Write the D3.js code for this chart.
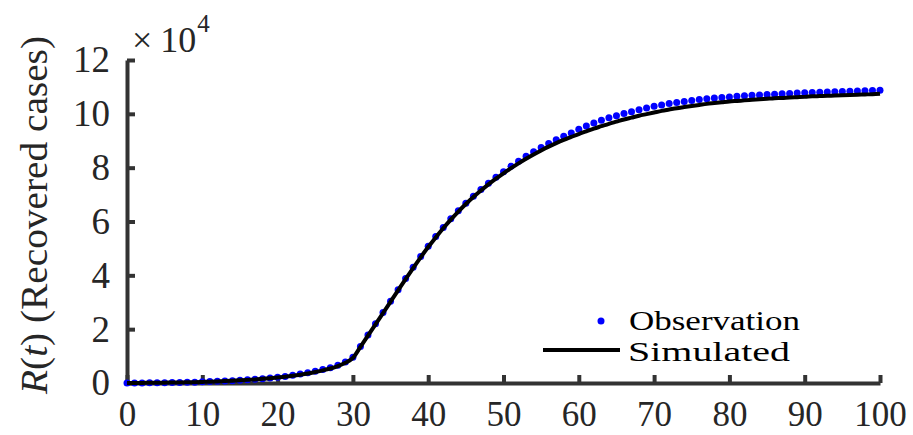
<!DOCTYPE html>
<html><head><meta charset="utf-8">
<script src="https://cdn.jsdelivr.net/npm/d3@7"></script>
<style>body{margin:0;background:#fff}svg{display:block}</style>
</head><body><svg id="c" width="913" height="435"></svg>
<script>
// Observed recovered cases, one value per day (day = index 0..100)
const observed = [
0,20,40,60,90,120,160,200,250,310,
420,520,630,750,880,1020,1180,1360,1570,1820,
2100,2450,2850,3300,3800,4400,5000,5700,6600,7800,
9600,13600,17800,22000,26200,30400,34600,38800,43000,47000,
50800,54400,57800,61000,64000,66800,69400,71900,74200,76400,
78500,80500,82400,84200,85900,87500,89000,90400,91700,92900,
94300,95500,96600,97600,98500,99300,100100,100800,101500,102200,
102800,103300,103800,104200,104600,105000,105300,105600,105900,106100,
106300,106500,106700,106900,107000,107200,107300,107500,107600,107700,
107800,107900,108000,108100,108200,108300,108400,108500,108600,108700,
108800];
// Simulated recovered cases (model), day = index 0..100
const simulated = [
0,20,40,60,90,120,160,200,250,310,
400,490,600,720,850,1000,1160,1340,1550,1790,
2050,2350,2700,3100,3550,4100,4700,5400,6300,7500,
9300,13400,17600,21800,26000,30200,34400,38600,42700,46700,
50500,54100,57500,60700,63700,66500,69100,71500,73800,75900,
77900,79800,81600,83300,84900,86400,87800,89100,90300,91400,
92500,93500,94500,95400,96300,97100,97900,98600,99300,99900,
100500,101100,101600,102100,102500,102900,103300,103700,104000,104300,
104600,104800,105000,105200,105400,105600,105800,105900,106100,106200,
106300,106500,106600,106700,106800,106900,107000,107100,107200,107300,
107500];
const xTicks = [0,10,20,30,40,50,60,70,80,90,100];
const yTicks = [0,20000,40000,60000,80000,100000,120000];
const seriesNames = ["Observation","Simulated"];

const svg = d3.select("#c");
const font = "'Liberation Serif', 'Times New Roman', serif";
const axisColor = "#333333";
const textColor = "#262626";
const x = d3.scaleLinear().domain([0,100]).range([127,880]);
const y = d3.scaleLinear().domain([0,120000]).range([383,60]);

// axes
const xAxis = svg.append("g").attr("transform","translate(0,383)")
  .call(d3.axisBottom(x).tickValues(xTicks).tickSizeInner(-8).tickSizeOuter(0).tickPadding(15).tickFormat(d3.format("d")));
const yAxis = svg.append("g").attr("transform","translate(127,0)")
  .call(d3.axisLeft(y).tickValues(yTicks).tickSizeInner(-8).tickSizeOuter(0).tickPadding(17).tickFormat(d=>d/10000));
[xAxis,yAxis].forEach(g=>{
  g.select(".domain").attr("stroke",axisColor).attr("stroke-width",4);
  g.selectAll(".tick line").attr("stroke",axisColor).attr("stroke-width",4);
  g.selectAll(".tick text").attr("fill",textColor).style("font-family",font).style("font-size","37px");
});
xAxis.selectAll(".tick text").style("font-size","35px").attr("dy","0.8em");

// exponent label
const ex = svg.append("text").attr("x",132).attr("y",52).attr("fill",textColor)
  .style("font-family",font).style("font-size","36px");
ex.append("tspan").text("×");
ex.append("tspan").attr("dx",8).text("10");
ex.append("tspan").attr("dy",-20).attr("dx",1).style("font-size","25px").text("4");

// y label
const yl = svg.append("text").attr("transform","translate(47,215) rotate(-90)")
  .attr("text-anchor","middle").attr("fill",textColor)
  .attr("textLength",358).attr("lengthAdjust","spacingAndGlyphs")
  .style("font-family",font).style("font-size","37px");
yl.append("tspan").style("font-style","italic").text("R");
yl.append("tspan").text("(");
yl.append("tspan").style("font-style","italic").text("t");
yl.append("tspan").text(")  (Recovered cases)");

// observed dots
svg.append("g").selectAll("circle").data(observed).join("circle")
  .attr("cx",(d,i)=>x(i)).attr("cy",d=>y(d)).attr("r",3.5).attr("fill","#0000ff");

// simulated line
svg.append("path").datum(simulated)
  .attr("d",d3.line().x((d,i)=>x(i)).y(d=>y(d)).curve(d3.curveMonotoneX))
  .attr("fill","none").attr("stroke","#000").attr("stroke-width",4).attr("stroke-linejoin","round");

// legend
const lg = svg.append("g");
lg.append("circle").attr("cx",601).attr("cy",321).attr("r",3.5).attr("fill","#0000ff");
lg.append("line").attr("x1",543).attr("x2",620).attr("y1",350).attr("y2",350).attr("stroke","#000").attr("stroke-width",4);
lg.append("text").attr("x",629).attr("y",330).attr("fill","#000")
  .attr("textLength",171).attr("lengthAdjust","spacingAndGlyphs")
  .style("font-family",font).style("font-size","27px").text(seriesNames[0]);
lg.append("text").attr("x",628).attr("y",361).attr("fill","#000")
  .attr("textLength",162).attr("lengthAdjust","spacingAndGlyphs")
  .style("font-family",font).style("font-size","27px").text(seriesNames[1]);
</script></body></html>
